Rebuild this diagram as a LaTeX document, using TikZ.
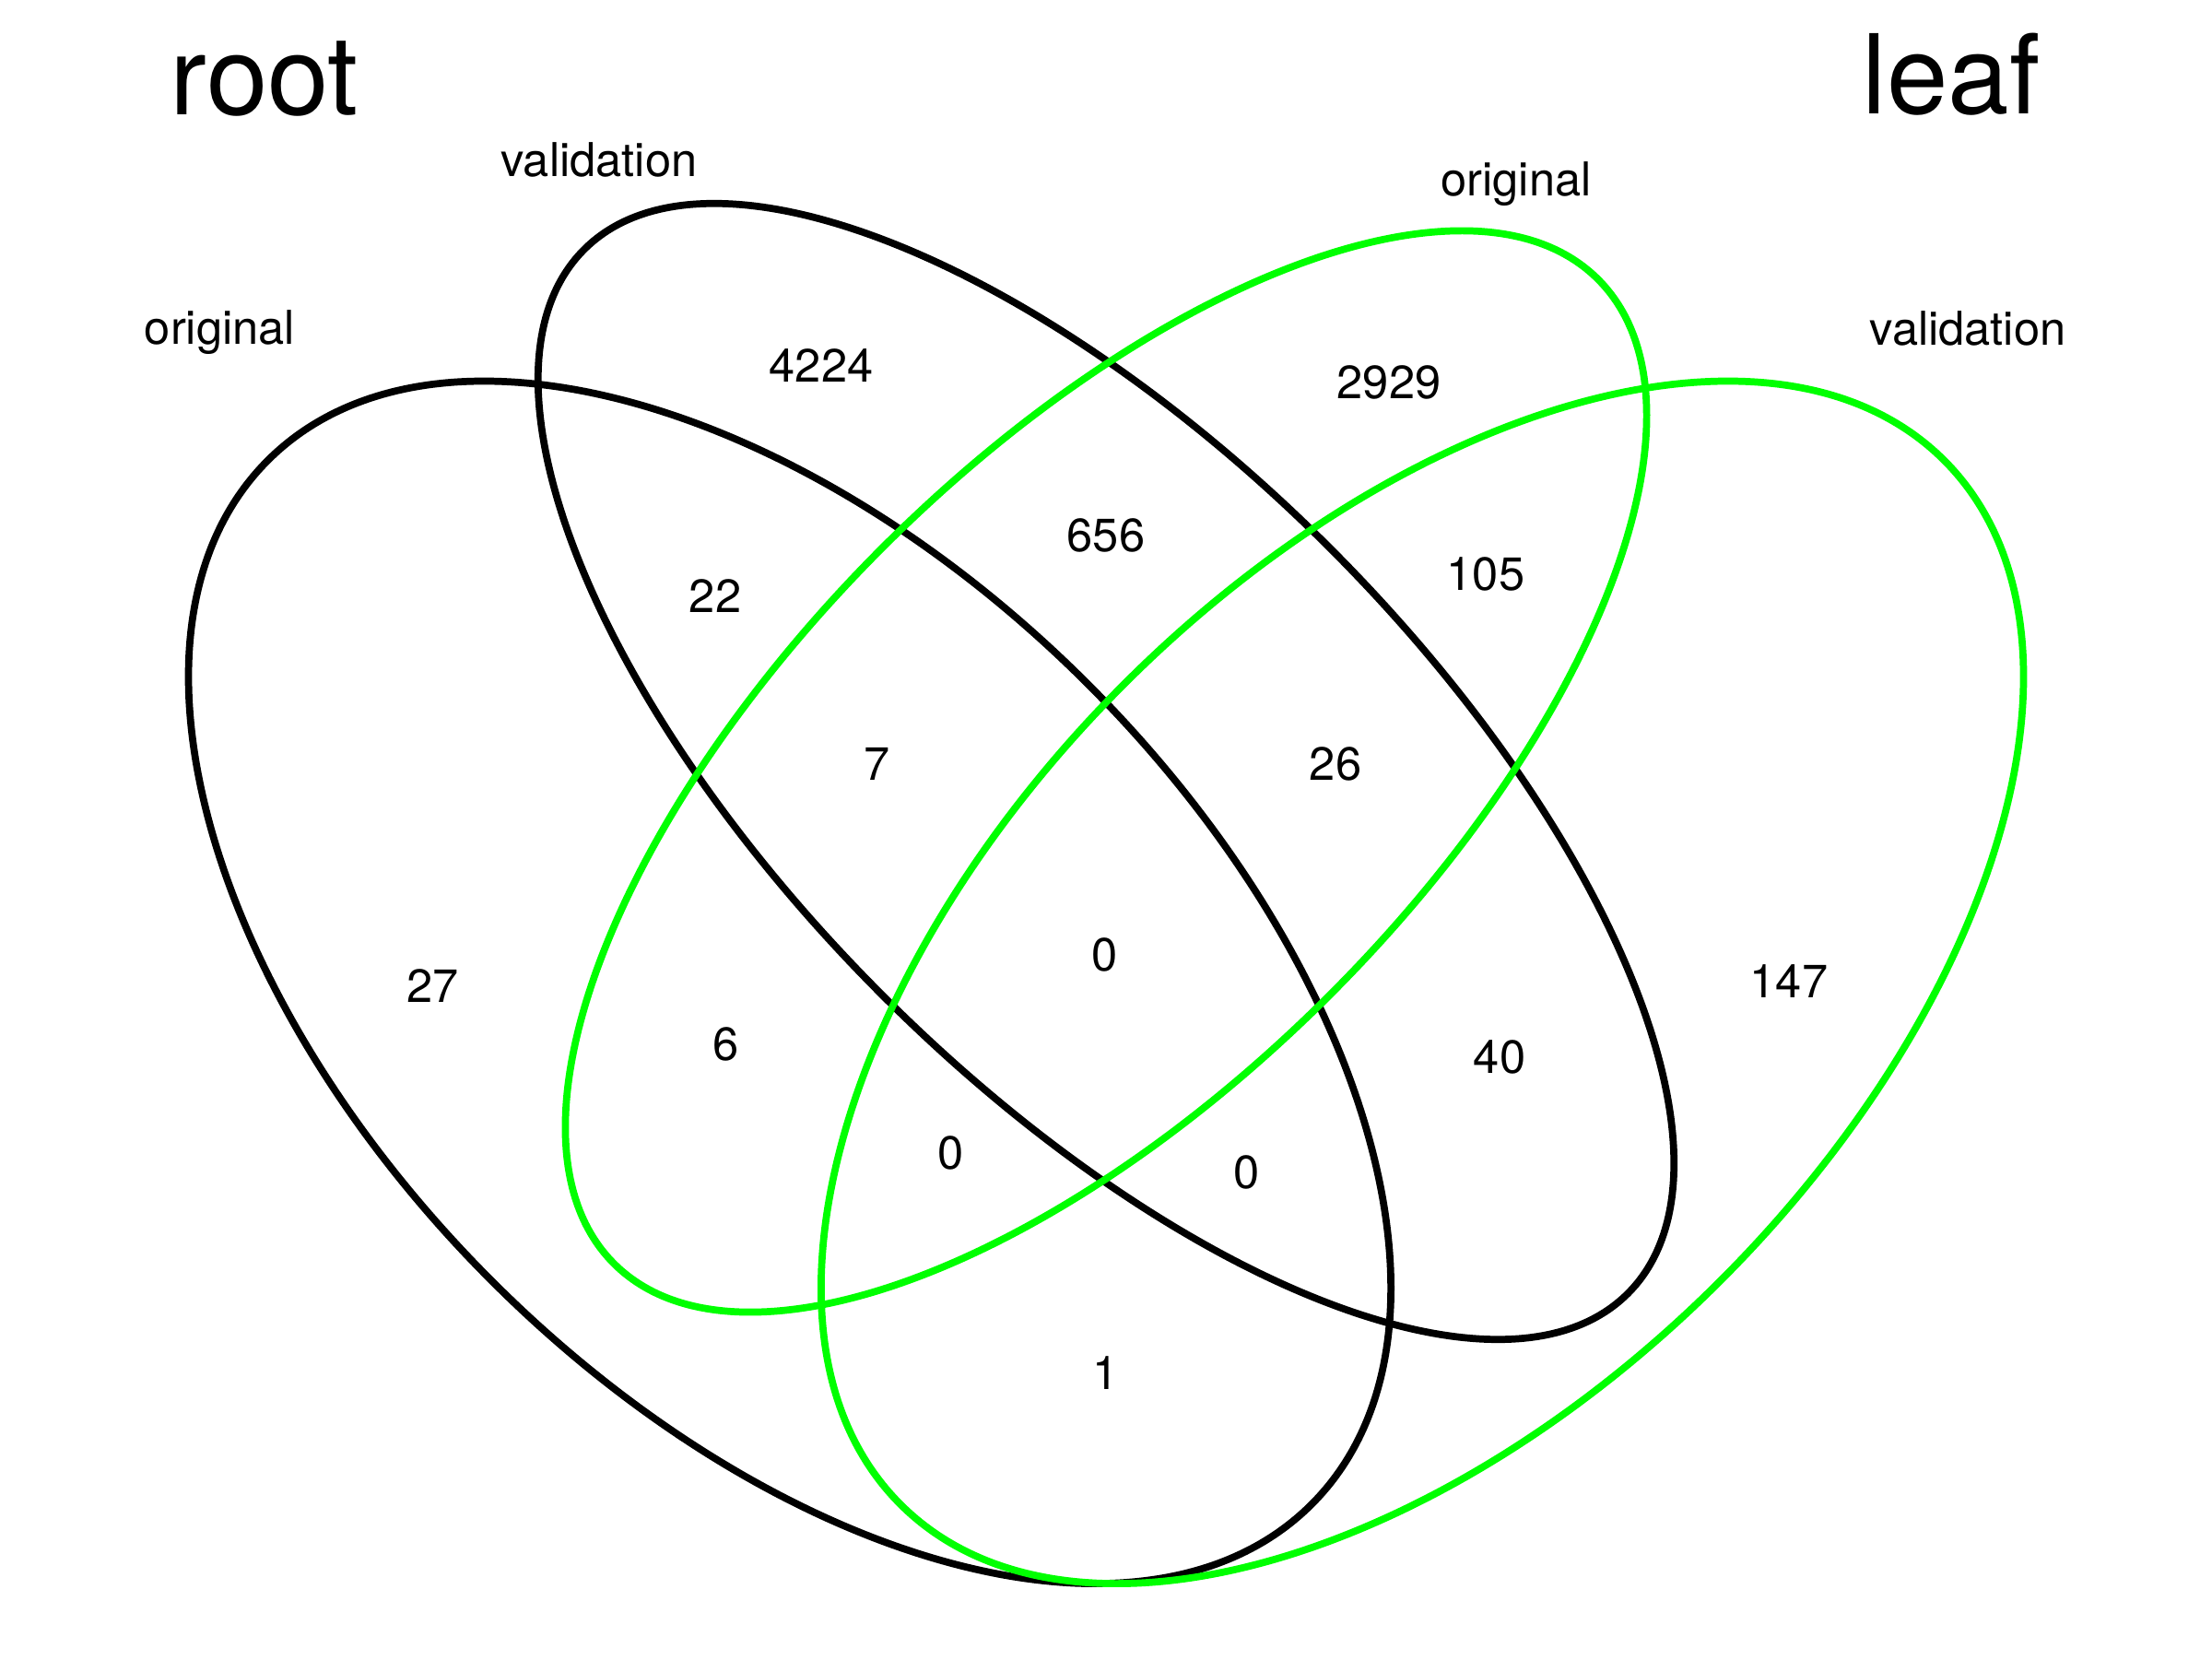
\documentclass[tikz,border=0pt]{standalone}
\usepackage{fontspec}
\setmainfont{TeX Gyre Heros}
\definecolor{vgreen}{RGB}{0,255,0}
\tikzset{
  venn/.style={line width=2.2pt},
  rootset/.style={venn, draw=black},
  leafset/.style={venn, draw=vgreen},
  count/.style={anchor=base, inner sep=0pt, font=\fontsize{14.4}{17}\selectfont},
  setlabel/.style={anchor=base, inner sep=0pt, font=\fontsize{14.4}{17}\selectfont},
  title/.style={anchor=base, inner sep=0pt, font=\fontsize{34}{40}\selectfont}
}
\begin{document}
\begin{tikzpicture}
\useasboundingbox (0,0) rectangle (24,18);
\fill[white] (0,0) rectangle (24,18);

% four ellipses in the Venn unit square
\begin{scope}[shift={(0.56,-3.4116)}, scale=22.88]
  \draw[rootset] (0.35,0.47) circle[x radius=0.35, y radius=0.20, rotate=-45];
  \draw[rootset] (0.50,0.57) circle[x radius=0.35, y radius=0.15, rotate=-45];
  \draw[leafset] (0.50,0.57) circle[x radius=0.33, y radius=0.15, rotate=45];
  \draw[leafset] (0.65,0.47) circle[x radius=0.35, y radius=0.20, rotate=45];
\end{scope}

% titles
\node[title] (troot) at (2.87,16.755) {root};
\node[title] (tleaf) at (21.17,16.76) {leaf};

% set labels
\node[setlabel] (lro) at (2.385,14.266) {original};
\node[setlabel] (lrv) at (6.50,16.085) {validation};
\node[setlabel] (llo) at (16.45,15.87) {original};
\node[setlabel] (llv) at (21.35,14.26) {validation};

% counts
\node[count] (n4224) at (8.91,13.852) {4224};
\node[count] (n656)  at (12.00,12.02) {656};
\node[count] (n22)   at (7.76,11.36) {22};
\node[count] (n7)    at (9.52,9.535) {7};
\node[count] (n2929) at (15.07,13.68) {2929};
\node[count] (n105)  at (16.12,11.594) {105};
\node[count] (n26)   at (14.49,9.535) {26};
\node[count] (n27)   at (4.695,7.13) {27};
\node[count] (n147)  at (19.41,7.18) {147};
\node[count] (n6)    at (7.88,6.495) {6};
\node[count] (n0c)   at (11.99,7.47) {0};
\node[count] (n0l)   at (10.316,5.32) {0};
\node[count] (n0r)   at (13.53,5.11) {0};
\node[count] (n40)   at (16.27,6.36) {40};
\node[count] (n1)    at (12.00,2.924) {1};
\end{tikzpicture}
\end{document}
